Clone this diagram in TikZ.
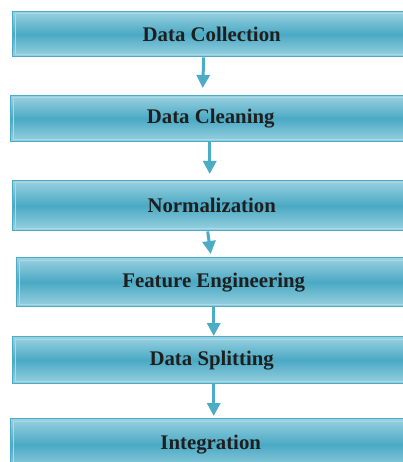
\documentclass[tikz,border=0pt]{standalone}
\usepackage{fontspec}
\setmainfont{Liberation Serif}
\usetikzlibrary{arrows.meta,calc}
\definecolor{edgec}{HTML}{4BACC6}
\definecolor{lightc}{HTML}{9AD1E0}
\definecolor{midc}{HTML}{4AA9C4}
\definecolor{arrowc}{HTML}{4BACC6}
\definecolor{innerc}{HTML}{A9D9E6}
\begin{document}
\begin{tikzpicture}[x=1pt,y=-1pt,
  stage/.style={draw=edgec, line width=1.4pt, top color=lightc, bottom color=lightc,
    middle color=midc, anchor=north west, inner sep=0pt,
    font=\fontsize{20.8}{24}\selectfont\bfseries, text=black!88,
    path picture={\draw[innerc, line width=0.8pt]
      ([shift={(2.2pt,-2.2pt)}]path picture bounding box.north west) rectangle
      ([shift={(-2.2pt,2.2pt)}]path picture bounding box.south east);}},
  flow/.style={draw=arrowc, line width=3pt, -{Triangle[width=13pt,length=13pt]}}]
\useasboundingbox (0,0) rectangle (403,462);
\node[stage, minimum width=398pt, minimum height=45pt] (b1) at (12,11) {Data Collection};
\node[stage, minimum width=400pt, minimum height=46pt] (b2) at (10,95) {Data Cleaning};
\node[stage, minimum width=398pt, minimum height=50pt] (b3) at (12,180) {Normalization};
\node[stage, minimum width=394pt, minimum height=49pt] (b4) at (16,257) {Feature Engineering};
\node[stage, minimum width=398pt, minimum height=47pt] (b5) at (12,336) {Data Splitting};
\node[stage, minimum width=400pt, minimum height=52pt] (b6) at (10,418) {Integration};
\draw[flow] ($(b1.south)+(-8,0)$) -- ($(b2.north)+(-8,-7)$);
\draw[flow] ($(b2.south)+(-1,0)$) -- ($(b3.north)+(-2,-6)$);
\draw[flow] ($(b3.south)+(-4,0)$) -- ($(b4.north)+(-3,-3)$);
\draw[flow] ($(b4.south)+(0,0)$) -- ($(b5.north)+(2,0)$);
\draw[flow] ($(b5.south)+(2,0)$) -- ($(b6.north)+(3,-2)$);
\end{tikzpicture}
\end{document}
